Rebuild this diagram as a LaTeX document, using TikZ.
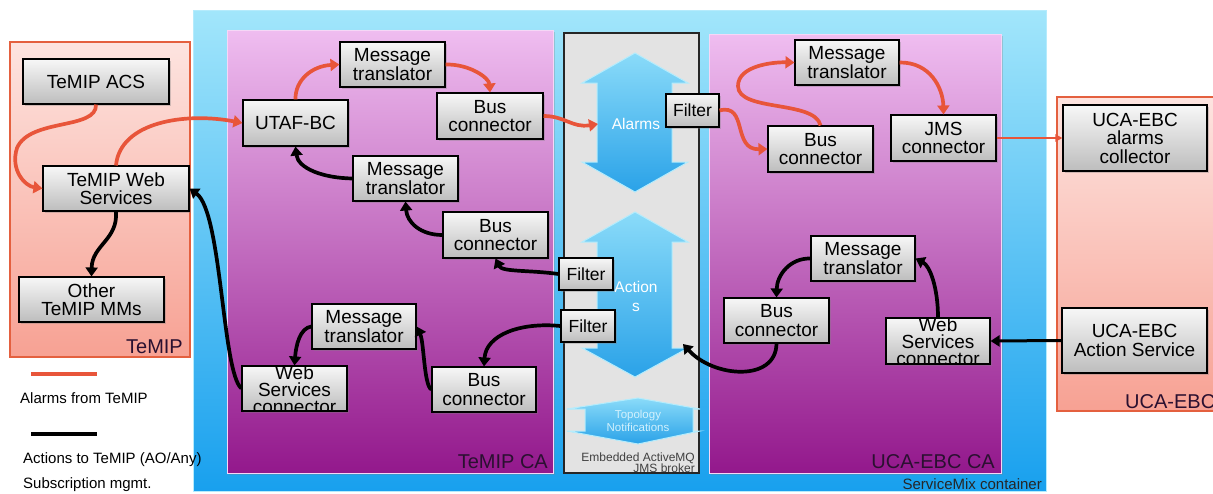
\documentclass[tikz,border=0pt]{standalone}
\usepackage{fontspec}
\setmainfont{Liberation Sans}
\usetikzlibrary{arrows.meta,shadows}
\definecolor{alarmc}{HTML}{E8553A}
\definecolor{contTop}{HTML}{A2E6FB}
\definecolor{contBot}{HTML}{18A0EE}
\definecolor{temTop}{HTML}{FDE4E0}
\definecolor{temBot}{HTML}{F7A193}
\definecolor{temBorder}{HTML}{E4603F}
\definecolor{caTop}{HTML}{EFBDF0}
\definecolor{caBot}{HTML}{93188C}
\definecolor{midFill}{HTML}{E3E3E3}
\definecolor{boxTop}{HTML}{F7F7F7}
\definecolor{boxBot}{HTML}{BDBDBD}
\definecolor{arrTop}{HTML}{8ADBF9}
\definecolor{arrBot}{HTML}{2AA2E8}
\definecolor{arrEdge}{HTML}{B5ECFC}
\definecolor{labDark}{HTML}{2A1030}
\definecolor{topoText}{HTML}{D2F1FD}
\tikzset{
  box/.style={draw=black, line width=1.1pt, top color=boxTop, bottom color=boxBot,
    minimum width=105pt, minimum height=45pt, inner sep=0pt, align=center,
    font=\fontsize{19}{18.5}\selectfont,
    drop shadow={opacity=0.35, shadow xshift=2pt, shadow yshift=-2pt}},
  filterbox/.style={box, minimum width=54pt, minimum height=32pt, font=\fontsize{17.5}{17.5}\selectfont},
  wstext/.style={inner sep=0pt, align=center, font=\fontsize{19}{17}\selectfont},
  alarm/.style={draw=alarmc, line width=3.7pt, -{Triangle[length=9pt,width=12pt]}},
  action/.style={draw=black, line width=3.7pt, -{Triangle[length=9pt,width=12pt]}},
  contlabel/.style={inner sep=0pt, anchor=base east, text=labDark, font=\fontsize{20}{20}\selectfont},
  legendtext/.style={inner sep=0pt, anchor=base west, font=\fontsize{15}{15}\selectfont},
  bluearrow/.style={draw=arrEdge, line width=1pt, top color=arrTop, bottom color=arrBot},
}
\begin{document}
\begin{tikzpicture}[x=1pt,y=-1pt]
\useasboundingbox (0,0) rectangle (1213,493);
% containers
\path[draw=contTop!80!white, line width=1pt, top color=contTop, bottom color=contBot] (193,10) rectangle (1046,491);
\path[draw=temBorder, line width=1.2pt, top color=temTop, bottom color=temBot] (10,42) rectangle (190,357);
\path[draw=temBorder, line width=1.2pt, top color=temTop, bottom color=temBot] (1057,97) rectangle (1225,411);
\path[draw=caTop!60!white, line width=1pt, top color=caTop, bottom color=caBot,
  drop shadow={opacity=0.3, shadow xshift=2pt, shadow yshift=-2pt}] (227,30) rectangle (553,473);
\path[draw=caTop!60!white, line width=1pt, top color=caTop, bottom color=caBot,
  drop shadow={opacity=0.3, shadow xshift=2pt, shadow yshift=-2pt}] (709,34) rectangle (1001,473);
\path[draw=black!85, line width=1.2pt, fill=midFill] (564,33) rectangle (699,473);
% container labels
\node[contlabel] (lblTemip) at (183,353) {TeMIP};
\node[contlabel] (lblTemipCA) at (548,468) {TeMIP CA};
\node[contlabel] (lblUcaCA) at (995,468) {UCA-EBC CA};
\node[contlabel, text=black!85, font=\fontsize{15}{15}\selectfont] (lblSMX) at (1042,489) {ServiceMix container};
\node[inner sep=0pt, anchor=base west, text=labDark, font=\fontsize{20}{20}\selectfont] (lblUca) at (1125,408) {UCA-EBC};
\node[inner sep=0pt, align=right, anchor=south east, text=black!75, font=\fontsize{12}{11.5}\selectfont] (lblAMQ) at (695,473) {Embedded ActiveMQ\\JMS broker};
% blue double arrows
\path[bluearrow] (635,53) -- (688,83) -- (672,83) -- (672,162) -- (688,162) -- (635,192) -- (582,162) -- (597,162) -- (597,83) -- (582,83) -- cycle;
\path[bluearrow] (635,212) -- (688,242) -- (672,242) -- (672,348) -- (688,348) -- (635,377) -- (582,348) -- (597,348) -- (597,242) -- (582,242) -- cycle;
\path[bluearrow] (638,398) -- (700,409) -- (693,409) -- (693,431) -- (700,431) -- (638,444) -- (567,431) -- (585,431) -- (585,409) -- (567,409) -- cycle;
\node[text=white, font=\fontsize{15.5}{15.5}\selectfont, inner sep=0pt] (alarmsLbl) at (636,124) {Alarms};
\node[text=white, font=\fontsize{15.5}{19}\selectfont, inner sep=0pt, align=center] (actionsLbl) at (636,296) {Action\\s};
\node[text=topoText, font=\fontsize{11.5}{13.5}\selectfont, inner sep=0pt, align=center] (topoLbl) at (638,421) {Topology\\Notifications};
\coordinate (alarmsIn) at (598,124);
\coordinate (actionsIn) at (683,344);
% TeMIP nodes
\node[box, minimum width=146pt] (acs) at (96,81.5) {TeMIP ACS};
\node[box, minimum width=146pt] (tws) at (116,188.5) {TeMIP Web\\Services};
\node[box, minimum width=145pt] (other) at (91.5,299.5) {Other\\TeMIP MMs};
% TeMIP CA nodes
\node[box, minimum height=46pt] (utaf) at (295.5,123) {UTAF-BC};
\node[box] (mt1) at (392.5,64.5) {Message\\translator};
\node[box, minimum width=106pt, minimum height=46pt] (bc1) at (490,116) {Bus\\connector};
\node[box] (mt2) at (405.5,178.5) {Message\\translator};
\node[box, minimum height=46pt] (bc2) at (495.5,235) {Bus\\connector};
\node[box, minimum width=104pt] (mt3) at (364,326.5) {Message\\translator};
\node[box] (wsc1) at (294.5,388.5) {};
\begin{scope}
  \clip ([shift={(0.6pt,0.6pt)}]wsc1.south west) rectangle ([shift={(-0.6pt,-0.6pt)}]wsc1.north east);
  \node[wstext] (wsc1t) at ([yshift=-1pt]wsc1.center) {Web\\Services\\connector};
\end{scope}
\node[box, minimum width=104pt] (bc3) at (484,389.5) {Bus\\connector};
% filters
\node[filterbox, minimum width=53pt, minimum height=33pt] (f1) at (692.5,110.5) {Filter};
\node[filterbox] (f2) at (586,274) {Filter};
\node[filterbox] (f3) at (588,326) {Filter};
% UCA-EBC CA nodes
\node[box, minimum width=104pt] (umt1) at (847,62.5) {Message\\translator};
\node[box, minimum height=46pt] (ubc1) at (820.5,149) {Bus\\connector};
\node[box, minimum height=46pt] (jms) at (943.5,138) {JMS\\connector};
\node[box, minimum width=104pt] (umt2) at (863,258.5) {Message\\translator};
\node[box] (ubc2) at (776.5,320.5) {Bus\\connector};
\node[box, minimum width=104pt, minimum height=46pt] (uwsc) at (938,341) {};
\begin{scope}
  \clip ([shift={(0.6pt,0.6pt)}]uwsc.south west) rectangle ([shift={(-0.6pt,-0.6pt)}]uwsc.north east);
  \node[wstext] (uwsct) at ([yshift=-1pt]uwsc.center) {Web\\Services\\connector};
\end{scope}
% UCA-EBC nodes
\node[box, minimum width=144pt, minimum height=66pt] (coll) at (1135,138) {UCA-EBC\\alarms\\collector};
\node[box, minimum width=145pt, minimum height=65pt] (aserv) at (1134.5,340.5) {UCA-EBC\\Action Service};
% alarm connectors
\draw[alarm] (acs.south) .. controls (97,130) and (30,118) .. (17,148) .. controls (10,170) and (25,186) .. (tws.west);
\draw[alarm] (tws.north) .. controls (120,122) and (185,112) .. (utaf.west);
\draw[alarm] (utaf.north) .. controls (295,80) and (312,66) .. (mt1.west);
\draw[alarm] (mt1.east) .. controls (470,64) and (489,78) .. (bc1.north);
\draw[alarm] (bc1.east) .. controls (565,116) and (572,128) .. (alarmsIn);
\draw[alarm] (f1.east) .. controls (748,103) and (732,150) .. (ubc1.west);
\draw[alarm] (ubc1.north) .. controls (815,100) and (738,112) .. (738,86) .. controls (738,66) and (772,62) .. (umt1.west);
\draw[alarm] (umt1.east) .. controls (930,62) and (943,88) .. (jms.north);
\draw[draw=alarmc, line width=2pt, -{Triangle[length=7pt,width=7pt]}] (jms.east) -- (coll.west);
% action connectors
\draw[action] (tws.south) .. controls (118,240) and (92,245) .. (other.north);
\draw[action] (wsc1.west) .. controls (222,372) and (222,212) .. (tws.east);
\draw[action] (mt2.west) .. controls (322,178) and (298,168) .. (utaf.south);
\draw[action] (bc2.west) .. controls (420,235) and (407,222) .. (mt2.south);
\draw[action] (f2.west) .. controls (530,270) and (502,272) .. (bc2.south);
\draw[action] (f3.west) .. controls (520,322) and (486,335) .. (bc3.north);
\draw[action] (bc3.west) .. controls (424,386) and (424,342) .. (mt3.east);
\draw[action] (mt3.west) .. controls (300,328) and (296,345) .. (wsc1.north);
\draw[action] (ubc2.south) .. controls (776,382) and (714,378) .. (actionsIn);
\draw[action] (uwsc.north) .. controls (938,288) and (930,266) .. (umt2.east);
\draw[action] (umt2.west) .. controls (790,258) and (777,275) .. (ubc2.north);
\draw[draw=black, line width=3pt, -{Triangle[length=9pt,width=11pt]}] (aserv.west) -- (uwsc.east);
% legend
\coordinate (legRa) at (31,374);
\coordinate (legRb) at (97,374);
\coordinate (legBa) at (31,434);
\coordinate (legBb) at (97,434);
\draw[draw=alarmc, line width=3.5pt] (legRa) -- (legRb);
\draw[draw=black, line width=3.5pt] (legBa) -- (legBb);
\node[legendtext] (legA) at (20,403) {Alarms from TeMIP};
\node[legendtext] (legB) at (23,463) {Actions to TeMIP (AO/Any)};
\node[legendtext] (legC) at (23,488) {Subscription mgmt.};
\end{tikzpicture}
\end{document}
